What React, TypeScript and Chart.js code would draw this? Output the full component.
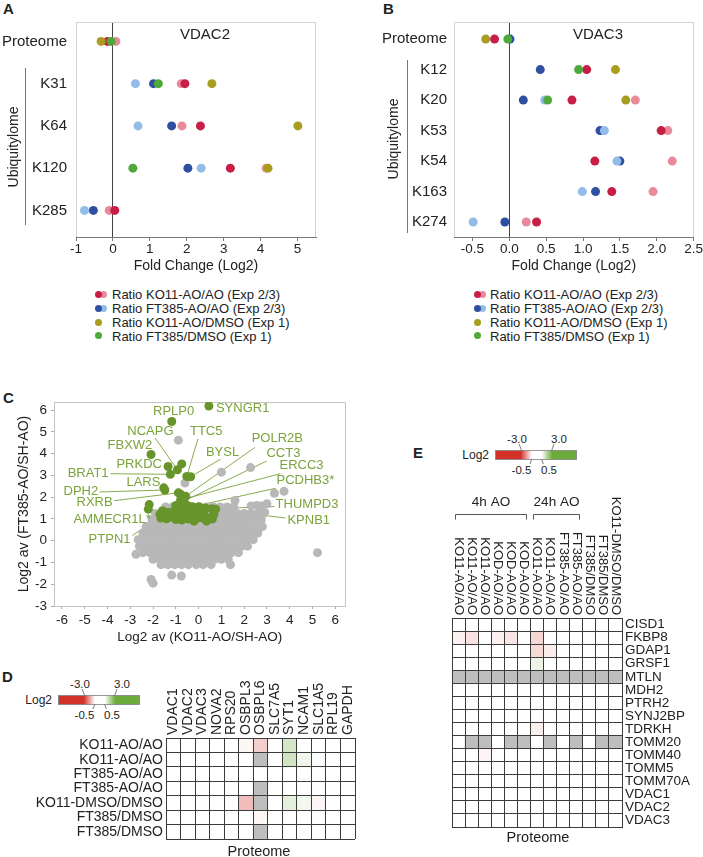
import React, { useEffect, useRef } from 'react';
import { Chart, registerables } from 'chart.js';

Chart.register(...registerables);

const FONT = '"Liberation Sans", Arial, Helvetica, sans-serif';
Chart.defaults.font.family = FONT;
Chart.defaults.color = '#222';

// ---------------- Panel A : VDAC2 ----------------
const vdac2Rows = ['Proteome', 'K31', 'K64', 'K120', 'K285'];
const vdac2KO11AO_a = [-0.15, 1.95, 2.37, 3.18, 0.05];
const vdac2KO11AO_b = [0.08, 1.85, 1.87, 4.15, -0.1];
const vdac2FT385AO_a = [null, 1.1, 1.59, 2.03, -0.53];
const vdac2FT385AO_b = [null, 0.61, 0.68, 2.39, -0.77];
const vdac2KO11DMSO = [-0.32, 2.68, 5.01, 4.2, null];
const vdac2FT385DMSO = [-0.05, 1.23, null, 0.54, null];
const vdac2XTicks = [-1, 0, 1, 2, 3, 4, 5];

// ---------------- Panel B : VDAC3 ----------------
const vdac3Rows = ['Proteome', 'K12', 'K20', 'K53', 'K54', 'K163', 'K274'];
const vdac3KO11AO_a = [-0.2, 1.05, 0.85, 2.06, 1.16, 1.39, 0.37];
const vdac3KO11AO_b = [null, null, 1.71, 2.15, 2.21, 1.95, 0.23];
const vdac3FT385AO_a = [0.01, 0.42, 0.19, 1.23, 1.5, 1.17, -0.06];
const vdac3FT385AO_b = [null, null, 0.48, 1.29, 1.46, 0.99, -0.49];
const vdac3KO11DMSO = [-0.32, 1.44, 1.58, null, null, null, null];
const vdac3FT385DMSO = [-0.02, 0.94, 0.52, null, null, null, null];
const vdac3XTicks = [-0.5, 0, 0.5, 1, 1.5, 2, 2.5];

const legendLabels = [
  'Ratio KO11-AO/AO (Exp 2/3)',
  'Ratio FT385-AO/AO (Exp 2/3)',
  'Ratio KO11-AO/DMSO (Exp 1)',
  'Ratio FT385/DMSO (Exp 1)',
];

const COLORS = {
  ko11a: '#c81d45',
  ko11b: '#e98a9b',
  ft385a: '#2f4fa2',
  ft385b: '#92bde9',
  ko11dmso: '#a99d20',
  ft385dmso: '#4ea83a',
};

// ---------------- Panel C : scatter ----------------
const cXTicks = [-6, -5, -4, -3, -2, -1, 0, 1, 2, 3, 4, 5, 6];
const cYTicks = [-3, -2, -1, 0, 1, 2, 3, 4, 5, 6];

const cHits: [number, number][] = [
  [0.45, 6.19], [-1.18, 5.48], [-2.09, 3.96], [-0.74, 3.53], [-1.34, 3.41], [-0.93, 3.26],
  [-1.24, 3.05], [-0.52, 2.95], [-0.35, 2.94], [-1.53, 2.43], [-1.48, 2.33], [-0.89, 2.2],
  [-0.79, 2.14], [-0.57, 2.04], [-0.79, 1.88], [-0.64, 1.82], [-2.17, 1.66], [-2.21, 1.45],
  [-1.59, 1.38], [-1.41, 1.01], [-1.15, 1.19], [-0.86, 1.11], [-0.57, 1.33], [-0.28, 1.56],
  [-0.13, 1.33], [0.09, 1.44], [0.23, 1.23], [0.48, 1.04], [0.57, 1.47], [0.67, 1.19],
  [-0.64, 1.56], [-0.35, 1.19], [-0.06, 1.04], [-1.0, 0.97], [-1.29, 1.08], [-1.66, 1.04],
  [0.01, 1.56], [-0.45, 1.0], [-0.2, 0.9], [0.35, 0.9], [0.6, 1.0], [-1.7, 1.22],
  [-0.9, 1.45], [0.3, 1.5], [-0.75, 0.95], [-1.1, 1.35], [0.75, 1.45], [-0.4, 1.45],
  [0.15, 1.05], [-1.0, 1.62], [-0.5, 1.62], [-1.35, 1.3],
];

const cBackgroundRows: [number, number[]][] = [
  [1.55, [-1.45, -1.15, -0.85, -0.55, -0.25, 0.05, 0.35, 0.65, 0.95, 1.25, 1.55]],
  [1.25, [-1.9, -1.6, -1.3, -1.0, -0.7, -0.4, -0.1, 0.2, 0.5, 0.8, 1.1, 1.4, 1.7, 2.0, 2.3, 2.6, 2.85]],
  [0.95, [-2.05, -1.75, -1.45, -1.15, -0.85, -0.55, -0.25, 0.05, 0.35, 0.65, 0.95, 1.25, 1.55, 1.85, 2.15, 2.45, 2.75]],
  [0.65, [-2.3, -2.0, -1.7, -1.4, -1.1, -0.8, -0.5, -0.2, 0.1, 0.4, 0.7, 1.0, 1.3, 1.6, 1.9, 2.2, 2.5, 2.8]],
  [0.35, [-2.45, -2.15, -1.85, -1.55, -1.25, -0.95, -0.65, -0.35, -0.05, 0.25, 0.55, 0.85, 1.15, 1.45, 1.75, 2.05, 2.35, 2.6]],
  [0.05, [-2.65, -2.35, -2.05, -1.75, -1.45, -1.15, -0.85, -0.55, -0.25, 0.05, 0.35, 0.65, 0.95, 1.25, 1.55, 1.85, 2.15, 2.4]],
  [-0.25, [-2.6, -2.3, -2.0, -1.7, -1.4, -1.1, -0.8, -0.5, -0.2, 0.1, 0.4, 0.7, 1.0, 1.3, 1.6, 1.9, 2.15]],
  [-0.55, [-2.45, -2.15, -1.85, -1.55, -1.25, -0.95, -0.65, -0.35, -0.05, 0.25, 0.55, 0.85, 1.15, 1.45, 1.75]],
  [-0.85, [-2.0, -1.7, -1.4, -1.1, -0.8, -0.5, -0.2, 0.1, 0.4, 0.7, 1.0, 1.3]],
  [-1.1, [-1.65, -1.35, -1.05, -0.75, -0.45, -0.1, 0.2, 0.55, 1.4]],
];
const cBackgroundOutliers: [number, number][] = [
  [-0.89, 4.62], [1.0, 3.15], [2.28, 3.36], [-0.6, 2.65], [3.33, 2.18], [3.75, 2.27],
  [1.6, 1.85], [2.3, 1.6], [2.55, 1.62], [2.75, 1.6], [3.0, 1.7], [2.9, 1.3],
  [5.22, -0.55], [-2.09, -1.78], [-2.0, -1.95], [-1.18, -1.58], [-0.76, -1.62], [-2.75, -0.62],
];

const cCalloutNames = ['SYNGR1', 'RPLP0', 'NCAPG', 'TTC5', 'FBXW2', 'BYSL', 'POLR2B', 'CCT3', 'ERCC3', 'PRKDC',
  'BRAT1', 'LARS', 'DPH2', 'PCDHB3*', 'RXRB', 'THUMPD3', 'AMMECR1L*', 'KPNB1', 'PTPN1'];
const cCalloutPoints: [number, number][] = [
  [0.45, 6.19], [-1.18, 5.48], [-0.93, 3.26], [-0.52, 2.95], [-2.09, 3.96], [-0.35, 2.94], [-0.57, 2.04],
  [-0.64, 1.82], [-0.79, 1.88], [-1.34, 3.41], [-1.24, 3.05], [-1.53, 2.43], [-1.48, 2.33], [-0.28, 1.56],
  [-0.89, 2.2], [0.57, 1.47], [-2.21, 1.45], [0.75, 1.45], [-1.0, 1.62],
];
// label placement (layout, data units): text left/middle, and leader line start (or null)
const cCalloutText: [number, number][] = [
  [0.76, 6.1], [-2.0, 5.92], [-3.13, 5.04], [-0.38, 5.04], [-4.0, 4.37], [0.32, 4.06], [2.33, 4.68],
  [2.98, 4.01], [3.55, 3.44], [-3.61, 3.52], [-5.75, 3.08], [-3.17, 2.68], [-5.93, 2.28], [3.42, 2.77],
  [-5.36, 1.75], [3.38, 1.66], [-5.49, 1.0], [3.9, 0.95], [-4.83, 0.06],
];
const cCalloutLineStart: ([number, number] | null)[] = [
  null, null, [-1.91, 4.72], [-0.03, 4.68], null, [0.97, 3.75], [2.46, 4.28],
  [2.98, 3.66], [3.59, 3.08], null, [-3.87, 3.08], null, [-4.35, 2.24], [3.38, 2.41],
  [-3.7, 1.84], [3.33, 1.57], null, [3.81, 1.04], [-2.91, 0.24],
];

// ---------------- Panel D : heatmap ----------------
const dRows = ['KO11-AO/AO', 'KO11-AO/AO', 'FT385-AO/AO', 'FT385-AO/AO', 'KO11-DMSO/DMSO', 'FT385/DMSO', 'FT385/DMSO'];
const dCols = ['VDAC1', 'VDAC2', 'VDAC3', 'NOVA2', 'RPS20', 'OSBPL3', 'OSBPL6', 'SLC7A5', 'SYT1', 'NCAM1', 'SLC1A5', 'RPL19', 'GAPDH'];
const dLog2: (number | null)[][] = [
  [0, 0, 0, 0, 0, -0.6, -1.1, 0, 1.2, 0, 0, 0, 0],
  [0, 0, 0, 0, 0, 0, null, 0, 1.3, 0.75, 0.55, 0, 0],
  [0, 0, 0, 0, 0, 0, 0, 0, 0, 0, 0, 0, 0],
  [0, 0, 0, 0, 0, 0, null, 0, 0, 0, 0, 0, 0],
  [0, 0, 0, 0, 0, -1.3, null, 0, 0.95, 0.72, -0.62, 0, 0],
  [0, 0, 0, 0, 0, 0, -0.6, 0, 0, 0, 0, 0, 0],
  [0, 0, 0, 0, 0, 0, null, 0, 0, 0, 0, 0, 0],
];

// ---------------- Panel E : heatmap ----------------
const eCols = ['KO11-AO/AO', 'KO11-AO/AO', 'KO11-AO/AO', 'KOD-AO/AO', 'KOD-AO/AO', 'KOD-AO/AO', 'KO11-AO/AO',
  'KO11-AO/AO', 'FT385-AO/AO', 'FT385-AO/AO', 'FT385/DMSO', 'FT385/DMSO', 'KO11-DMSO/DMSO'];
const eRows = ['CISD1', 'FKBP8', 'GDAP1', 'GRSF1', 'MTLN', 'MDH2', 'PTRH2', 'SYNJ2BP', 'TDRKH', 'TOMM20',
  'TOMM40', 'TOMM5', 'TOMM70A', 'VDAC1', 'VDAC2', 'VDAC3'];
const eGroups = [
  { label: '4h AO', from: 0, to: 5 },
  { label: '24h AO', from: 6, to: 9 },
];
const eLog2: (number | null)[][] = [
  [0, 0, 0, 0, 0, 0, 0, 0, 0, 0, 0, 0, 0],
  [-0.68, -0.85, 0, -0.68, -0.82, 0, -1.0, 0, 0, 0, 0, 0, 0],
  [0, 0, 0, 0, 0, 0, -0.95, -0.75, 0, 0, 0, 0, 0],
  [0, 0, 0, 0, 0, 0, 0.8, 0, 0, 0, 0, 0, 0],
  [null, null, null, null, null, null, null, null, null, null, null, null, null],
  [0, 0, 0, 0, 0, 0, 0, 0, 0, 0, 0, 0, 0],
  [0, -0.55, 0, 0, 0, 0, 0, 0, 0, 0, 0, 0, 0],
  [0, 0, 0, 0, 0, 0, 0, 0, 0, 0, 0, 0, 0],
  [0, 0, 0, 0, 0, 0, -0.7, 0, 0, 0, 0, 0, 0],
  [0, null, null, 0, null, null, 0, null, 0, null, 0, null, null],
  [0, 0, -0.62, 0, 0, 0, 0, 0, 0, 0, 0, 0, 0],
  [0, 0, 0, 0, 0, 0, 0, 0, 0, 0, 0, 0, 0],
  [0, 0, 0, 0, 0, 0, 0, 0, 0, 0, 0, 0, 0],
  [0, 0, 0, 0, 0, 0, 0, 0, 0, 0, 0, 0, 0],
  [0, 0, 0, 0, 0, 0, 0, 0, 0, 0, 0, 0, 0],
  [0, 0, 0, 0, 0, 0, 0, 0, 0, 0, 0, 0, 0],
];

// ---------------- helpers ----------------
const RED = [210, 50, 40];
const GREEN = [110, 170, 60];
function heatColor(v: number | null) {
  if (v == null) return '#bebebe';
  const a = Math.abs(v);
  if (a <= 0.5) return '#ffffff';
  const t = Math.min(1, (a - 0.5) / 2.5);
  const base = v < 0 ? RED : GREEN;
  const m = (c: number) => Math.round(255 + (c - 255) * t);
  return `rgb(${m(base[0])},${m(base[1])},${m(base[2])})`;
}

const framePlugin = {
  id: 'frame',
  beforeDatasetsDraw(chart: any, _a: any, opts: any) {
    const { left, right, top, bottom } = chart.chartArea;
    const ctx = chart.ctx;
    ctx.save();
    ctx.strokeStyle = opts.color || '#ccc';
    ctx.lineWidth = 1;
    ctx.beginPath();
    ctx.moveTo(Math.round(left) + 0.5, bottom);
    ctx.lineTo(Math.round(left) + 0.5, Math.round(top) + 0.5);
    ctx.lineTo(Math.round(right) - 0.5, Math.round(top) + 0.5);
    ctx.lineTo(Math.round(right) - 0.5, bottom);
    ctx.stroke();
    ctx.restore();
  },
};

function dotConfig(c: any) {
  return {
    type: 'scatter',
    data: {
      datasets: c.series.map((s: any) => ({
        data: s.values
          .map((v: number | null, i: number) => (v == null ? null : { x: v, y: i }))
          .filter((p: any) => p),
        backgroundColor: s.color,
        pointRadius: 4.5,
        pointHoverRadius: 4.5,
        pointBorderWidth: 0,
      })),
    },
    options: {
      animation: false,
      responsive: false,
      events: [],
      layout: { padding: { top: c.padTop, right: c.padRight, left: 0, bottom: 0 } },
      plugins: { legend: { display: false }, tooltip: { enabled: false }, frame: { color: '#d2d2d2' } },
      scales: {
        x: {
          type: 'linear',
          min: c.xMin,
          max: c.xMax,
          afterBuildTicks: (s: any) => { s.ticks = c.xTicks.map((v: number) => ({ value: v })); },
          afterFit: (s: any) => { s.height = c.xHeight; },
          ticks: {
            callback: (v: any) => Number(v).toFixed(c.decimals),
            font: { size: 13.5 }, padding: 0, maxRotation: 0, autoSkip: false, color: '#222',
          },
          grid: {
            drawOnChartArea: true,
            color: (ctx: any) => (ctx.tick && ctx.tick.value === 0 ? '#444' : 'rgba(0,0,0,0)'),
            tickColor: '#777', tickLength: 4, lineWidth: 1,
          },
          border: { display: true, color: '#777' },
          title: { display: true, text: 'Fold Change (Log2)', font: { size: 14 }, padding: 0, color: '#222' },
        },
        y: {
          type: 'linear',
          reverse: true,
          min: c.yMin,
          max: c.yMax,
          afterBuildTicks: (s: any) => { s.ticks = c.rows.map((_: any, i: number) => ({ value: i })); },
          afterFit: (s: any) => { s.width = c.yWidth; },
          ticks: {
            callback: (v: any) => c.rows[v] ?? '',
            font: { size: 15 }, padding: c.yLabelPad, autoSkip: false, color: '#222',
          },
          grid: { display: false, drawTicks: false },
          border: { display: false },
        },
      },
    },
    plugins: [framePlugin],
  };
}

const calloutPlugin = {
  id: 'callouts',
  beforeDatasetsDraw(chart: any) {
    const { ctx, scales: { x, y } } = chart;
    ctx.save();
    ctx.strokeStyle = '#7aa33a';
    ctx.lineWidth = 0.9;
    cCalloutNames.forEach((_n, i) => {
      const st = cCalloutLineStart[i];
      if (!st) return;
      const [px, py] = cCalloutPoints[i];
      ctx.beginPath();
      ctx.moveTo(x.getPixelForValue(st[0]), y.getPixelForValue(st[1]));
      ctx.lineTo(x.getPixelForValue(px), y.getPixelForValue(py));
      ctx.stroke();
    });
    ctx.restore();
  },
  afterDatasetsDraw(chart: any) {
    const { ctx, scales: { x, y } } = chart;
    ctx.save();
    ctx.fillStyle = '#7aa33a';
    ctx.font = `13px ${FONT}`;
    ctx.textAlign = 'left';
    ctx.textBaseline = 'middle';
    cCalloutNames.forEach((n, i) => {
      const [tx, ty] = cCalloutText[i];
      ctx.fillText(n, x.getPixelForValue(tx), y.getPixelForValue(ty));
    });
    ctx.restore();
  },
};

function scatterConfig() {
  const bg = [
    ...cBackgroundRows.flatMap(([yy, xs]) => xs.map((xx) => ({ x: xx, y: yy }))),
    ...cBackgroundOutliers.map(([xx, yy]) => ({ x: xx, y: yy })),
  ];
  return {
    type: 'scatter',
    data: {
      datasets: [
        { data: cHits.map(([xx, yy]) => ({ x: xx, y: yy })), backgroundColor: '#67952c', pointRadius: 4.5, pointHoverRadius: 4.5, pointBorderWidth: 0 },
        { data: bg, backgroundColor: '#b8b8b8', pointRadius: 4.5, pointHoverRadius: 4.5, pointBorderWidth: 0 },
      ],
    },
    options: {
      animation: false,
      responsive: false,
      events: [],
      layout: { padding: { top: 5, right: 3, left: 0, bottom: 0 } },
      plugins: { legend: { display: false }, tooltip: { enabled: false }, frame: { color: '#c4c4c4' } },
      scales: {
        x: {
          type: 'linear', min: -6.35, max: 6.45,
          afterBuildTicks: (s: any) => { s.ticks = cXTicks.map((v) => ({ value: v })); },
          afterFit: (s: any) => { s.height = 39; },
          ticks: { callback: (v: any) => String(v), font: { size: 13.5 }, padding: 3, maxRotation: 0, autoSkip: false, color: '#222' },
          grid: { drawOnChartArea: false, tickLength: 3, tickColor: '#aaa' },
          border: { color: '#c4c4c4' },
          title: { display: true, text: 'Log2 av (KO11-AO/SH-AO)', font: { size: 13.5 }, padding: 0, color: '#222' },
        },
        y: {
          type: 'linear', min: -3, max: 6.37,
          afterBuildTicks: (s: any) => { s.ticks = cYTicks.map((v) => ({ value: v })); },
          afterFit: (s: any) => { s.width = 54; },
          ticks: { callback: (v: any) => String(v), font: { size: 13.5 }, padding: 4, autoSkip: false, color: '#222' },
          grid: { drawOnChartArea: false, tickLength: 3, tickColor: '#aaa' },
          border: { color: '#c4c4c4' },
          title: { display: true, text: 'Log2 av (FT385-AO/SH-AO)', font: { size: 14 }, padding: { top: 16, bottom: 0 }, color: '#222' },
        },
      },
    },
    plugins: [framePlugin, calloutPlugin],
  };
}

function makeHeaderPlugin(cols: string[], dir: 'up' | 'down', size: number, groups?: any[]) {
  return {
    id: 'colHeaders',
    afterDraw(chart: any) {
      const { ctx, chartArea, scales: { x } } = chart;
      ctx.save();
      ctx.fillStyle = '#222';
      ctx.font = `${size}px ${FONT}`;
      cols.forEach((lab, i) => {
        const px = x.getPixelForValue(i);
        ctx.save();
        ctx.translate(px, chartArea.top - 3);
        ctx.rotate(dir === 'up' ? -Math.PI / 2 : Math.PI / 2);
        ctx.textAlign = dir === 'up' ? 'left' : 'right';
        ctx.textBaseline = 'middle';
        ctx.fillText(lab, 0, 0);
        ctx.restore();
      });
      if (groups) {
        const w = x.getPixelForValue(1) - x.getPixelForValue(0);
        groups.forEach((g) => {
          const x0 = Math.round(x.getPixelForValue(g.from) - w / 2 + 3) + 0.5;
          const x1 = Math.round(x.getPixelForValue(g.to) + w / 2 - 4) + 0.5;
          const yb = Math.round(chartArea.top - 104) + 0.5;
          ctx.strokeStyle = '#555';
          ctx.lineWidth = 1;
          ctx.beginPath();
          ctx.moveTo(x0, yb + 5);
          ctx.lineTo(x0, yb);
          ctx.lineTo(x1, yb);
          ctx.lineTo(x1, yb + 5);
          ctx.stroke();
          ctx.font = `13.5px ${FONT}`;
          ctx.textAlign = 'center';
          ctx.textBaseline = 'middle';
          ctx.fillText(g.label, (x0 + x1) / 2, chartArea.top - 116);
        });
      }
      ctx.restore();
    },
  };
}

function heatConfig(h: any) {
  return {
    type: 'bar',
    data: {
      labels: h.cols,
      datasets: h.rows.map((r: string, ri: number) => ({
        label: r,
        data: h.cols.map(() => 1),
        backgroundColor: h.values[ri].map(heatColor),
        borderWidth: 0,
        barPercentage: 1,
        categoryPercentage: 1,
      })),
    },
    options: {
      animation: false,
      responsive: false,
      events: [],
      layout: { padding: h.padding },
      plugins: { legend: { display: false }, tooltip: { enabled: false } },
      scales: {
        x: {
          type: 'category', position: 'top', stacked: true, offset: true,
          grid: { offset: true, color: '#3c3c3c', drawTicks: false, lineWidth: 1, z: 1 },
          border: { color: '#3c3c3c', z: 1 },
          ticks: { display: false },
          afterFit: (s: any) => { s.height = h.topHeight; },
        },
        y: {
          type: 'linear', position: h.rowSide, reverse: true, stacked: true, min: 0, max: h.rows.length,
          afterBuildTicks: (s: any) => { s.ticks = h.rows.map((_: any, i: number) => ({ value: i + 0.5 })); },
          afterFit: (s: any) => { s.width = h.rowWidth; },
          ticks: {
            callback: (v: any) => h.rows[Math.floor(v)] ?? '',
            font: { size: h.rowFont }, padding: 3, autoSkip: false, color: '#222',
          },
          grid: { offset: true, color: '#3c3c3c', drawTicks: false, lineWidth: 1, z: 1 },
          border: { color: '#3c3c3c', z: 1 },
        },
      },
    },
    plugins: [h.headerPlugin],
  };
}

// ---------------- components ----------------
function ChartBox({ make, left, top, width, height }: any) {
  const ref = useRef<HTMLCanvasElement>(null);
  useEffect(() => {
    const chart = new Chart(ref.current as HTMLCanvasElement, make());
    return () => chart.destroy();
  }, []);
  return (
    <canvas
      ref={ref}
      width={width}
      height={height}
      style={{ position: 'absolute', left, top, width, height }}
    />
  );
}

function Txt({ x, y, size = 13, align = 'center', children, color = '#222', weight = 400, rotate = 0 }: any) {
  const tx = align === 'center' ? '-50%' : align === 'right' ? '-100%' : '0';
  return (
    <div
      style={{
        position: 'absolute', left: x, top: y,
        transform: `translate(${tx},-50%)${rotate ? ` rotate(${rotate}deg)` : ''}`,
        fontSize: size, lineHeight: 1, whiteSpace: 'nowrap', color, fontWeight: weight,
      }}
    >
      {children}
    </div>
  );
}

function Dot({ x, y, color }: any) {
  return (
    <div style={{ position: 'absolute', left: x - 3.5, top: y - 3.5, width: 7, height: 7, borderRadius: '50%', background: color }} />
  );
}

function Legend({ dotX, textX }: any) {
  const ys = [294, 308, 322, 335.5];
  return (
    <>
      <Dot x={dotX + 5} y={ys[0]} color={COLORS.ko11b} />
      <Dot x={dotX} y={ys[0]} color={COLORS.ko11a} />
      <Dot x={dotX + 5} y={ys[1]} color={COLORS.ft385b} />
      <Dot x={dotX} y={ys[1]} color={COLORS.ft385a} />
      <Dot x={dotX} y={ys[2]} color={COLORS.ko11dmso} />
      <Dot x={dotX} y={ys[3]} color={COLORS.ft385dmso} />
      {legendLabels.map((l, i) => (
        <Txt key={i} x={textX} y={ys[i]} size={13} align="left">{l}</Txt>
      ))}
    </>
  );
}

function ColorBar({ bx, by, id }: any) {
  const W = 81;
  const H = 9;
  return (
    <svg
      style={{ position: 'absolute', left: bx - 45, top: by - 22, overflow: 'visible', fontFamily: FONT }}
      width={140}
      height={50}
    >
      <defs>
        <linearGradient id={id} x1="0" x2="1" y1="0" y2="0">
          <stop offset="0" stopColor="rgb(210,50,40)" />
          <stop offset="0.31" stopColor="rgb(210,50,40)" />
          <stop offset="0.45" stopColor="#ffffff" />
          <stop offset="0.57" stopColor="#ffffff" />
          <stop offset="0.7" stopColor="rgb(110,170,60)" />
          <stop offset="1" stopColor="rgb(110,170,60)" />
        </linearGradient>
      </defs>
      <g transform="translate(45,22)" fill="#222">
        <text x={-6} y={H / 2 + 4} textAnchor="end" fontSize={12}>Log2</text>
        <rect x={0.5} y={0.5} width={W} height={H} fill={`url(#${id})`} stroke="#808080" strokeWidth={0.8} />
        <line x1={24} y1={-6} x2={26.7} y2={0.5} stroke="#444" strokeWidth={0.7} />
        <line x1={59} y1={-6} x2={56.7} y2={0.5} stroke="#444" strokeWidth={0.7} />
        <line x1={36.7} y1={H + 0.5} x2={35} y2={H + 5} stroke="#444" strokeWidth={0.7} />
        <line x1={46.7} y1={H + 0.5} x2={48.4} y2={H + 5} stroke="#444" strokeWidth={0.7} />
        <text x={22} y={-7} textAnchor="middle" fontSize={11.5}>-3.0</text>
        <text x={64} y={-7} textAnchor="middle" fontSize={11.5}>3.0</text>
        <text x={26.5} y={23.5} textAnchor="middle" fontSize={11.5}>-0.5</text>
        <text x={54} y={23.5} textAnchor="middle" fontSize={11.5}>0.5</text>
      </g>
    </svg>
  );
}

export default function App() {
  useEffect(() => {
    document.body.style.margin = '0';
  }, []);

  const seriesA = [
    { values: vdac2FT385DMSO, color: COLORS.ft385dmso },
    { values: vdac2KO11DMSO, color: COLORS.ko11dmso },
    { values: vdac2KO11AO_a, color: COLORS.ko11a },
    { values: vdac2KO11AO_b, color: COLORS.ko11b },
    { values: vdac2FT385AO_b, color: COLORS.ft385b },
    { values: vdac2FT385AO_a, color: COLORS.ft385a },
  ];
  const seriesB = [
    { values: vdac3FT385DMSO, color: COLORS.ft385dmso },
    { values: vdac3KO11DMSO, color: COLORS.ko11dmso },
    { values: vdac3KO11AO_a, color: COLORS.ko11a },
    { values: vdac3KO11AO_b, color: COLORS.ko11b },
    { values: vdac3FT385AO_b, color: COLORS.ft385b },
    { values: vdac3FT385AO_a, color: COLORS.ft385a },
  ];

  return (
    <div
      style={{
        position: 'absolute', left: 0, top: 0, width: 703, height: 857, overflow: 'hidden',
        background: '#fff', fontFamily: FONT, color: '#222',
      }}
    >
      {/* Panel letters */}
      <Txt x={3} y={8} size={15} weight={700} align="left">A</Txt>
      <Txt x={383} y={8} size={15} weight={700} align="left">B</Txt>
      <Txt x={3} y={397} size={15} weight={700} align="left">C</Txt>
      <Txt x={2} y={676} size={15} weight={700} align="left">D</Txt>
      <Txt x={413} y={452} size={15} weight={700} align="left">E</Txt>

      {/* Panel A */}
      <ChartBox
        left={0} top={0} width={350} height={275}
        make={() => dotConfig({
          rows: vdac2Rows, series: seriesA, xMin: -1, xMax: 5.5, xTicks: vdac2XTicks, decimals: 0,
          yMin: -0.46, yMax: 4.63, padTop: 22, padRight: 34, yWidth: 76, xHeight: 38, yLabelPad: 9,
        })}
      />
      <Txt x={205} y={33} size={15}>VDAC2</Txt>
      <div style={{ position: 'absolute', left: 25, top: 68, width: 1, height: 157, background: '#777' }} />
      <Txt x={12.5} y={147} size={14} rotate={-90}>Ubiquitylome</Txt>
      <Legend dotX={98} textX={112} />

      {/* Panel B */}
      <ChartBox
        left={350} top={0} width={353} height={275}
        make={() => dotConfig({
          rows: vdac3Rows, series: seriesB, xMin: -0.75, xMax: 2.5, xTicks: vdac3XTicks, decimals: 1,
          yMin: -0.56, yMax: 6.49, padTop: 22, padRight: 8, yWidth: 104, xHeight: 38, yLabelPad: 7,
        })}
      />
      <Txt x={598} y={33} size={15}>VDAC3</Txt>
      <div style={{ position: 'absolute', left: 407, top: 60, width: 1, height: 173, background: '#777' }} />
      <Txt x={393} y={139} size={14} rotate={-90}>Ubiquitylome</Txt>
      <Legend dotX={477} textX={490} />

      {/* Panel C */}
      <ChartBox left={0} top={390} width={350} height={255} make={() => scatterConfig()} />

      {/* Panel D */}
      <ColorBar bx={58} by={695} id="gradD" />
      <ChartBox
        left={0} top={670} width={365} height={187}
        make={() => heatConfig({
          rows: dRows, cols: dCols, values: dLog2, padding: { left: 0, right: 10, top: 0, bottom: 18 },
          topHeight: 68, rowSide: 'left', rowWidth: 166, rowFont: 14,
          headerPlugin: makeHeaderPlugin(dCols, 'up', 14),
        })}
      />
      <Txt x={259} y={851} size={14.5}>Proteome</Txt>

      {/* Panel E */}
      <ColorBar bx={495} by={450} id="gradE" />
      <ChartBox
        left={440} top={440} width={263} height={400}
        make={() => heatConfig({
          rows: eRows, cols: eCols, values: eLog2, padding: { left: 12, right: 0, top: 0, bottom: 13 },
          topHeight: 178, rowSide: 'right', rowWidth: 81, rowFont: 13.5,
          headerPlugin: makeHeaderPlugin(eCols, 'down', 13, eGroups),
        })}
      />
      <Txt x={538} y={837} size={14.5}>Proteome</Txt>
    </div>
  );
}
